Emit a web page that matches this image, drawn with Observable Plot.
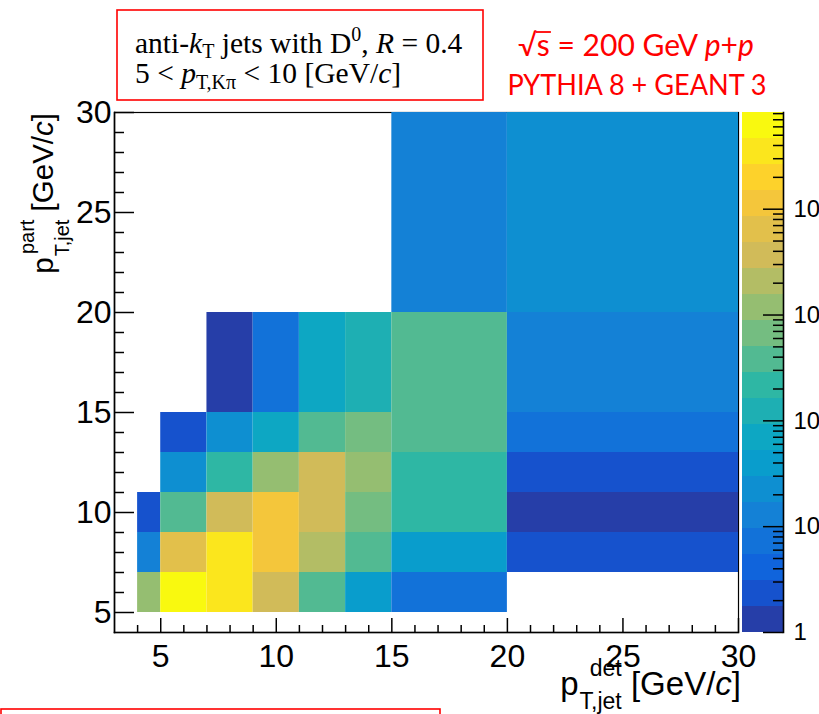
<!DOCTYPE html>
<html><head><meta charset="utf-8">
<script src="https://cdn.jsdelivr.net/npm/d3@7"></script>
<script src="https://cdn.jsdelivr.net/npm/@observablehq/plot@0.6"></script>
<style>
body{margin:0;background:#fff;}
#wrap{position:relative;width:819px;height:714px;overflow:hidden;background:#fff;}
#wrap svg{position:absolute;top:0;}
</style></head><body><div id="wrap"></div>
<script>
// ---- data ----
const xEdges = [4, 5, 7, 9, 11, 13, 15, 20, 30];      // p_T,jet^det bin edges
const yEdges = [5, 7, 9, 11, 13, 15, 20, 30];         // p_T,jet^part bin edges
// counts per particle-level row, one value per detector-level bin (null = empty)
const row5to7   = [1200, 62000, 36000, 3600, 390, 41, 7.5, null];
const row7to9   = [13, 6300, 34000, 11500, 2100, 370, 40, 2.3];
const row9to11  = [2.4, 380, 3700, 11000, 3500, 680, 220, 1.3];
const row11to13 = [null, 22, 210, 1150, 3700, 1250, 230, 2.2];
const row13to15 = [null, 2.3, 23, 68, 380, 660, 390, 7];
const row15to20 = [null, null, 1.3, 7.2, 72, 125, 400, 13];
const row20to30 = [null, null, null, null, null, null, 13, 23];
const xDomain = [3, 30];
const yDomain = [4, 30];
const xMajorTicks = [5, 10, 15, 20, 25, 30];
const xMinorTicks = [4, 6, 7, 8, 9, 11, 12, 13, 14, 16, 17, 18, 19, 21, 22, 23, 24, 26, 27, 28, 29];
const yMajorTicks = [5, 10, 15, 20, 25, 30];
const yMinorTicks = [6, 7, 8, 9, 11, 12, 13, 14, 16, 17, 18, 19, 21, 22, 23, 24, 26, 27, 28, 29];
const zMin = 1, zMax = 8.2e4, nContours = 20;
const zMajorTicks = [1, 10, 100, 1000, 10000];
const zMajorLabels = ["1", "10", "10²", "10³", "10⁴"];
const zMinorTicks = [2,3,4,5,6,7,8,9, 20,30,40,50,60,70,80,90, 200,300,400,500,600,700,800,900,
  2000,3000,4000,5000,6000,7000,8000,9000, 20000,30000,40000,50000,60000,70000,80000];

// ---- ROOT kBird palette ----
const birdStops = [0, 0.125, 0.25, 0.375, 0.5, 0.625, 0.75, 0.875, 1];
const birdR = [0.2082, 0.0592, 0.0780, 0.0232, 0.1802, 0.5301, 0.8186, 0.9956, 0.9764];
const birdG = [0.1664, 0.3599, 0.5041, 0.6419, 0.7178, 0.7492, 0.7328, 0.7862, 0.9832];
const birdB = [0.5293, 0.8684, 0.8385, 0.7914, 0.6425, 0.4662, 0.3499, 0.1968, 0.0539];
const nPal = 255;
const palette = [];
for (let g = 1; g < birdStops.length; g++) {
  const n = Math.floor(nPal * birdStops[g]) - Math.floor(nPal * birdStops[g - 1]);
  for (let c = 0; c < n; c++) {
    const f = c / n;
    const r = birdR[g-1] + (birdR[g] - birdR[g-1]) * f;
    const gg = birdG[g-1] + (birdG[g] - birdG[g-1]) * f;
    const b = birdB[g-1] + (birdB[g] - birdB[g-1]) * f;
    palette.push(d3.rgb(r * 255, gg * 255, b * 255).formatHex());
  }
}
const bandColors = d3.range(nContours).map(c => palette[Math.min(nPal - 1, Math.floor((c + 0.99) * nPal / nContours))]);
const bandEdges = d3.range(nContours + 1).map(k => zMin * Math.pow(zMax / zMin, k / nContours));
const bands = d3.range(nContours).map(k => ({lo: bandEdges[k], hi: bandEdges[k + 1], c: bandColors[k]}));

const rows = [row5to7, row7to9, row9to11, row11to13, row13to15, row15to20, row20to30];
const cells = [];
rows.forEach((r, j) => r.forEach((v, i) => {
  if (v != null) cells.push({x1: xEdges[i], x2: xEdges[i + 1], y1: yEdges[j], y2: yEdges[j + 1], n: v});
}));

const W = 819, H = 714, mL = 114, mR = 81, mT = 112, mB = 82;
const fw = W - mL - mR, fh = H - mT - mB;
const sans = "'Liberation Sans', Arial, Helvetica, sans-serif";

const main = Plot.plot({
  width: W, height: H, marginLeft: mL, marginRight: mR, marginTop: mT, marginBottom: mB,
  x: {domain: xDomain}, y: {domain: yDomain},
  color: {type: "threshold", domain: bandEdges.slice(1, -1), range: bandColors},
  style: {fontFamily: sans, background: "white", color: "black", overflow: "visible"},
  marks: [
    Plot.frame({stroke: "black", strokeWidth: 1.2}),
    Plot.rect(cells, {x1: "x1", x2: "x2", y1: "y1", y2: "y2", fill: "n", inset: 0}),
    Plot.frame({anchor: "left", stroke: "black", strokeWidth: 1.6}),
    Plot.frame({anchor: "bottom", stroke: "black", strokeWidth: 1.6}),
    Plot.ruleX(xMajorTicks, {insetTop: fh - 14, strokeWidth: 1.5}),
    Plot.ruleX(xMinorTicks, {insetTop: fh - 7, strokeWidth: 1.5}),
    Plot.ruleY(yMajorTicks, {insetRight: fw - 20, strokeWidth: 1.5}),
    Plot.ruleY(yMinorTicks, {insetRight: fw - 10, strokeWidth: 1.5}),
    Plot.axisX(xMajorTicks, {tickSize: 0, tickPadding: 12, fontSize: 32, label: null}),
    Plot.axisY(yMajorTicks, {tickSize: 0, tickPadding: 3, fontSize: 32, label: null})
  ]
});

const cbLeft = 742, cbW = 41;
const cbar = Plot.plot({
  width: W - cbLeft, height: H, marginLeft: 0, marginRight: W - cbLeft - cbW, marginTop: mT, marginBottom: mB,
  y: {type: "log", domain: [zMin, zMax], axis: null},
  style: {fontFamily: sans, background: "transparent", color: "black", overflow: "visible"},
  marks: [
    Plot.rect(bands, {y1: "lo", y2: "hi", fill: "c"}),
    Plot.frame({anchor: "right", stroke: "black", strokeWidth: 1.6}),
    Plot.ruleY(zMajorTicks, {insetLeft: cbW - 20, strokeWidth: 1.5}),
    Plot.ruleY(zMinorTicks, {insetLeft: cbW - 10, strokeWidth: 1.5}),
    Plot.text(zMajorTicks, {y: d => d, text: (d, i) => zMajorLabels[i], frameAnchor: "right",
      textAnchor: "start", dx: 10, fontSize: 24})
  ]
});

const wrap = document.getElementById("wrap");
main.style.left = "0px";
cbar.style.left = cbLeft + "px";
wrap.appendChild(main);
wrap.appendChild(cbar);

// ---- axis titles ----
const svg = d3.select(main);
function stackedTitle(g, fs, sfs, supDy, subDy, sup, sub) {
  const t = g.append("text").attr("text-anchor", "end").attr("font-size", fs).attr("font-family", sans);
  t.append("tspan").text("[GeV/");
  t.append("tspan").attr("font-style", "italic").text("c");
  t.append("tspan").text("]");
  const w = t.node().getComputedTextLength() + fs * 0.28;
  const ts = g.append("text").attr("text-anchor", "end").attr("font-size", sfs).attr("font-family", sans)
    .attr("x", -w).attr("y", supDy).text(sup);
  const tb = g.append("text").attr("text-anchor", "end").attr("font-size", sfs).attr("font-family", sans)
    .attr("x", -w).attr("y", subDy).text(sub);
  const w2 = Math.max(ts.node().getComputedTextLength(), tb.node().getComputedTextLength());
  g.append("text").attr("text-anchor", "end").attr("font-size", fs).attr("font-family", sans)
    .attr("x", -w - w2 - 1).text("p");
}
stackedTitle(svg.append("g").attr("transform", "translate(741,695)"), 33, 23, -19, 14, "det", "T,jet");
stackedTitle(svg.append("g").attr("transform", "translate(53,113) rotate(-90)"), 29.5, 20, -19, 16, "part", "T,jet");

// ---- annotation boxes ----
const serif = "'Liberation Serif', 'Times New Roman', serif";
svg.append("rect").attr("x", 117).attr("y", 10).attr("width", 366).attr("height", 90)
  .attr("fill", "white").attr("stroke", "#f00").attr("stroke-width", 1.6);
const l1 = svg.append("text").attr("x", 135).attr("y", 53).attr("text-anchor", "start")
  .attr("font-family", serif).attr("font-size", 29.5);
l1.append("tspan").text("anti-");
l1.append("tspan").attr("font-style", "italic").text("k");
l1.append("tspan").attr("font-size", 20).attr("dy", 5).text("T");
l1.append("tspan").attr("dy", -5).text(" jets with D");
l1.append("tspan").attr("font-size", 20).attr("dy", -12).text("0");
l1.append("tspan").attr("dy", 12).text(", ");
l1.append("tspan").attr("font-style", "italic").text("R");
l1.append("tspan").text(" = 0.4");
const l2 = svg.append("text").attr("x", 135).attr("y", 83).attr("text-anchor", "start")
  .attr("font-family", serif).attr("font-size", 29.5);
l2.append("tspan").text("5 < ");
l2.append("tspan").attr("font-style", "italic").text("p");
l2.append("tspan").attr("font-size", 20).attr("dy", 6).text("T,Kπ");
l2.append("tspan").attr("dy", -6).text(" < 10 [GeV/");
l2.append("tspan").attr("font-style", "italic").text("c");
l2.append("tspan").text("]");

const calib = "Lato, 'Open Sans', sans-serif";
const r1 = svg.append("text").attr("x", 636).attr("y", 56).attr("text-anchor", "middle")
  .attr("font-family", calib).attr("font-size", 30).attr("fill", "#f00");
r1.append("tspan").text("√s = 200 GeV ");
r1.append("tspan").attr("font-style", "italic").text("p");
r1.append("tspan").text("+");
r1.append("tspan").attr("font-style", "italic").text("p");
const e0 = r1.node().getExtentOfChar(0), e1 = r1.node().getExtentOfChar(1);
svg.append("line").attr("x1", e0.x + e0.width - 1).attr("x2", e1.x + e1.width + 1)
  .attr("y1", 56 - 24).attr("y2", 56 - 24).attr("stroke", "#f00").attr("stroke-width", 1.8);
svg.append("text").attr("x", 637).attr("y", 95).attr("text-anchor", "middle")
  .attr("font-family", calib).attr("font-size", 28).attr("fill", "#f00")
  .attr("textLength", 259).attr("lengthAdjust", "spacingAndGlyphs").text("PYTHIA 8 + GEANT 3");

svg.append("rect").attr("x", 1).attr("y", 709).attr("width", 439).attr("height", 40)
  .attr("fill", "none").attr("stroke", "#f00").attr("stroke-width", 1.6);
</script></body></html>
